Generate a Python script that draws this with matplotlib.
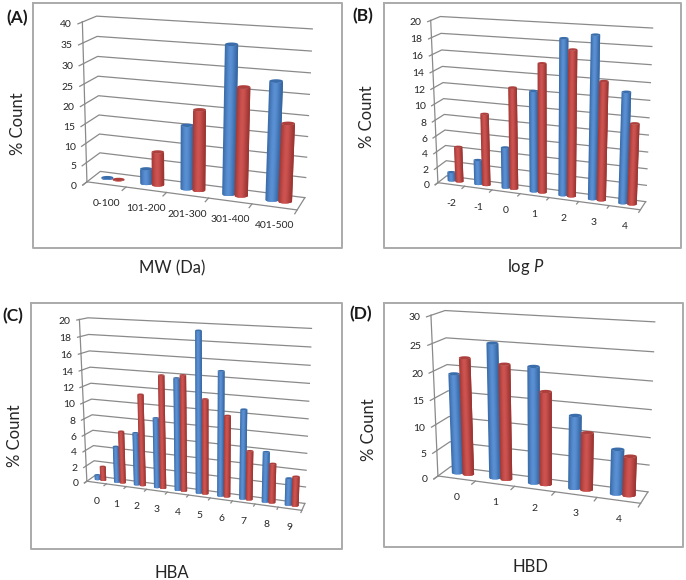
import numpy as np
import matplotlib
matplotlib.use("Agg")
import matplotlib.pyplot as plt
from matplotlib.patches import Polygon

plt.rcParams['font.family'] = ['Lato', 'DejaVu Sans']
plt.rcParams['mathtext.fontset'] = 'custom'
plt.rcParams['mathtext.it'] = 'Lato:italic'
plt.rcParams['mathtext.rm'] = 'Lato'

# ---- data ----
a_cats = ['0-100', '101-200', '201-300', '301-400', '401-500']
a_blue = [0.2, 3.8, 16, 36.2, 28.5]
a_red = [0.1, 8.5, 20.1, 26.5, 18.9]
b_cats = ['-2', '-1', '0', '1', '2', '3', '4']
b_blue = [1.1, 3.1, 5.1, 12.3, 18.6, 19.2, 13.1]
b_red = [4.5, 9, 12.5, 15.6, 17.4, 14.1, 9.6]
c_cats = ['0', '1', '2', '3', '4', '5', '6', '7', '8', '9']
c_blue = [0.6, 4.6, 6.6, 8.7, 13.7, 19.3, 14.9, 10.7, 6, 3.2]
c_red = [1.8, 6.6, 11.4, 13.9, 14.1, 11.5, 9.8, 5.9, 4.7, 3.5]
d_cats = ['0', '1', '2', '3', '4']
d_blue = [19.1, 25.2, 21.6, 13.5, 8.2]
d_red = [22.2, 21.6, 17.3, 10.6, 7.2]

W, H = 686, 580
fig = plt.figure(figsize=(W / 100, H / 100), dpi=100)
ax = fig.add_axes([0, 0, 1, 1])
ax.set_xlim(0, W)
ax.set_ylim(H, 0)
ax.axis('off')


def fit_camera(pairs):
    rows = []
    for (x, v, d), (u, w) in pairs:
        rows.append([x, v, d, 1, 0, 0, 0, 0, -u * x, -u * v, -u * d, -u])
        rows.append([0, 0, 0, 0, x, v, d, 1, -w * x, -w * v, -w * d, -w])
    return np.linalg.svd(np.array(rows, float))[2][-1].reshape(3, 4)


def shade(base, t):
    # t in 0..1 across the visible face, left to right
    dark, light = base
    k = np.exp(-((t - 0.45) / 0.38) ** 2)
    return tuple((1 - k) * np.array(dark) + k * np.array(light))


def hexrgb(s):
    return matplotlib.colors.to_rgb(s)


BLUE = (hexrgb('#2f5f9a'), hexrgb('#5a90d4'))
RED = (hexrgb('#93302d'), hexrgb('#cd5350'))
BLUE_TOP, RED_TOP = hexrgb('#3a6dab'), hexrgb('#ad3f3c')
GRID = '#8a8a8a'
TXT = '#262626'


def panel(cats, blue, red, vmax, step, off, frame, fl, bl, br, fr, ticks,
          title, title_xy, ylab_xy, tag, tag_xy, lab_dy=19):
    ox, oy = off
    z = lambda p: (ox + p[0] / 3, oy + p[1] / 3)
    n = len(cats)
    # fl, bl, br, fr: (bottom point, top point) of the wall edges in zoom coordinates
    pairs = [((0, 0, 0), z(fl[0])), ((0, 1, 0), z(fl[1])),
             ((0, 0, 1), z(bl[0])), ((0, 1, 1), z(bl[1])),
             ((1, 0, 1), z(br[0])), ((1, 1, 1), z(br[1])),
             ((1, 0, 0), z(fr[0])), ((1, 1, 0), z(fr[1]))]
    frb = fr[0]
    for i, tx in enumerate(ticks):
        if 0 < i < n:
            f = (tx - fl[0][0]) / (frb[0] - fl[0][0])
            pairs.append(((i / n, 0, 0), z((tx, fl[0][1] + f * (frb[1] - fl[0][1])))))
    P = fit_camera(pairs)

    def pr(x, v, d):
        h = P @ np.array([x, v, d, 1.0])
        return np.array([h[0] / h[2], h[1] / h[2]])

    # frame
    x0, y0, x1, y1 = frame
    ax.plot([x0, x1, x1, x0, x0], [y0, y0, y1, y1, y0], color='#aaaaaa', lw=1.4, zorder=1)

    # walls' grid
    vals = np.arange(0, vmax + step / 2, step)
    for val in vals:
        f = val / vmax
        a, b, c = pr(0, f, 0), pr(0, f, 1), pr(1, f, 1)
        ax.plot([a[0], b[0], c[0]], [a[1], b[1], c[1]], color=GRID, lw=0.9, zorder=2)
        t = pr(0, f, -0.3)
        ax.plot([a[0], t[0]], [a[1], t[1]], color=GRID, lw=0.9, zorder=2)
        ax.text(t[0] - 6, t[1] + 1, f'{val:g}', ha='right', va='center', fontsize=7.5, color=TXT, zorder=6)
    # vertical axis and floor
    a, b = pr(0, 0, 0), pr(0, 1, 0)
    ax.plot([a[0], b[0]], [a[1], b[1]], color=GRID, lw=0.9, zorder=2)
    c, e = pr(1, 0, 0), pr(1, 0, 1)
    ax.plot([a[0], c[0], e[0]], [a[1], c[1], e[1]], color=GRID, lw=0.9, zorder=2)
    for i in range(n + 1):
        s, t = pr(i / n, 0, 0), pr(i / n, 0, -0.3)
        ax.plot([s[0], t[0]], [s[1], t[1]], color=GRID, lw=0.9, zorder=2)
    for i, c_ in enumerate(cats):
        p = pr((i + 0.5) / n, 0, 0)
        ax.text(p[0], p[1] + lab_dy, c_, ha='center', va='center', fontsize=7.5, color=TXT, zorder=6)

    # cylinders: upright, with level elliptical caps; each strip overlaps the
    # next one only, so seams and piled-up edges stay out of the picture
    shift = 0.145
    half = 0.155
    dc = 0.5
    zo = 3.0

    def edge(c_pt, s, w, h):
        return c_pt + (w * s, h * np.sqrt(max(0.0, 1 - s ** 2)))

    for i in range(n):
        for sgn, val, base, top in ((-1, blue[i], BLUE, BLUE_TOP), (1, red[i], RED, RED_TOP)):
            xc = (i + 0.5 + sgn * shift) / n
            f = val / vmax
            bot_c = pr(xc, 0, dc)
            top_c = pr(xc, f, dc)
            w = (pr(xc + half / n, 0, dc)[0] - pr(xc - half / n, 0, dc)[0]) / 2
            h = 0.27 * w
            ss = np.linspace(-1, 1, 17)
            ds = ss[1] - ss[0]
            for s0 in ss[:-1]:
                arc = np.linspace(s0, min(1.0, s0 + 2.5 * ds), 6)
                low = [edge(bot_c, s, w, h) for s in arc]
                up = [edge(top_c, s, w, h) for s in arc[::-1]]
                ax.add_patch(Polygon(low + up, closed=True, facecolor=shade(base, (s0 + ds / 2 + 1) / 2),
                                     edgecolor='none', lw=0, zorder=zo, snap=False))
                zo += 0.0001
            tt = np.linspace(0, 2 * np.pi, 40)
            ell = [top_c + (w * np.cos(t), h * np.sin(t)) for t in tt]
            ax.add_patch(Polygon(ell, closed=True, facecolor=top, edgecolor='none', lw=0, zorder=zo, snap=False))
            zo += 0.0001

    ax.text(*title_xy, title, ha='center', va='center', fontsize=12, color=TXT, zorder=6)
    ax.text(*ylab_xy, '% Count', ha='center', va='center', rotation=90, fontsize=12, color=TXT, zorder=6)
    ax.text(*tag_xy, tag, ha='center', va='center', fontsize=12.5, fontweight='bold', color='#1a1a1a', zorder=6)


panel(a_cats, a_blue, a_red, 40, 5, (0, 0), (33, 3, 342, 248),
      ((262, 545), (247, 65)), ((302, 517), (290, 48)), ((915, 592), (935, 85)), ((893, 630), (915, 111)),
      [262, 378, 497, 623, 757, 893],
      'MW (Da)', (172, 268), (18, 124), '(A)', (17, 18))
panel(b_cats, b_blue, b_red, 20, 2, (343, 0), (384, 3, 681, 248),
      ((285, 548), (265, 60)), ((312, 528), (290, 50)), ((908, 603), (930, 85)), ((893, 630), (911, 98)),
      [285, 365, 447, 530, 617, 705, 800, 893],
      'log $\\mathit{P}$', (526, 267), (367, 117), '(B)', (363, 16))
panel(c_cats, c_blue, c_red, 20, 2, (0, 290), (31, 303, 342, 549),
      ((260, 575), (240, 90)), ((285, 553), (262, 83)), ((915, 643), (935, 118)), ((905, 660), (925, 118)),
      [260, 317, 378, 440, 503, 567, 632, 697, 765, 832, 905],
      'HBA', (172, 573), (15, 436), '(C)', (13, 316))
panel(d_cats, d_blue, d_red, 30, 5, (343, 290), (384, 303, 683, 547),
      ((285, 558), (265, 75)), ((325, 530), (305, 62)), ((915, 605), (935, 95)), ((893, 640), (913, 114)),
      [285, 397, 513, 635, 763, 893],
      'HBD', (530, 567), (369, 430), '(D)', (361, 314))

fig.savefig('out.png', dpi=100, facecolor='white')
